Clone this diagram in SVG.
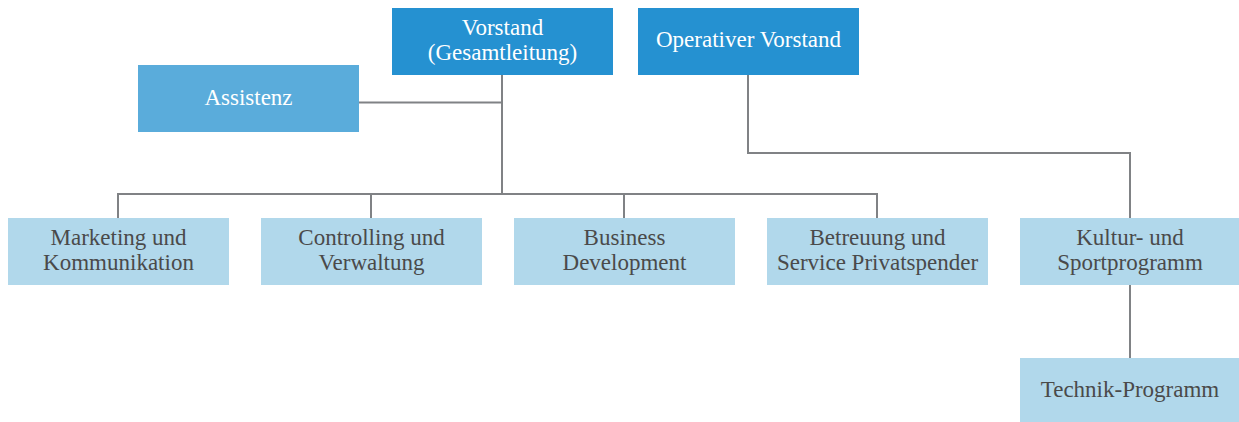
<svg xmlns="http://www.w3.org/2000/svg" width="1239" height="422" viewBox="0 0 1239 422">
<style>
text{font-family:'Liberation Serif','Times New Roman',Tinos,'DejaVu Serif',serif;font-size:23px;text-anchor:middle}
.dark{fill:#2591d1}
.mid{fill:#5aacdb}
.light{fill:#b1d8eb}
.w{fill:#ffffff}
.g{fill:#4a4a4a}
.c{fill:none;stroke:#808285;stroke-width:2}
</style>
<rect width="1239" height="422" fill="#ffffff"/>
<g id="connectors">
<path class="c" d="M359 102.5H502M502 75V194M118 218V194H877V218M371 194V218M624 194V218"/>
<path class="c" d="M748 75V153H1130V218M1130 285V358"/>
</g>
<g font-family="Liberation Serif, serif">
<g id="vorstand"><rect class="dark" x="392" y="8" width="221" height="67"/><text class="w" x="502.5" y="35">Vorstand</text><text class="w" x="502.5" y="59.5">(Gesamtleitung)</text></g>
<g id="operativer-vorstand"><rect class="dark" x="638" y="8" width="221" height="67"/><text class="w" x="748.5" y="47">Operativer Vorstand</text></g>
<g id="assistenz"><rect class="mid" x="138" y="65" width="221" height="67"/><text class="w" x="248.5" y="105">Assistenz</text></g>
<g id="marketing"><rect class="light" x="8" y="218" width="221" height="67"/><text class="g" x="118.5" y="245">Marketing und</text><text class="g" x="118.5" y="270">Kommunikation</text></g>
<g id="controlling"><rect class="light" x="261" y="218" width="221" height="67"/><text class="g" x="371.5" y="245">Controlling und</text><text class="g" x="371.5" y="270">Verwaltung</text></g>
<g id="business"><rect class="light" x="514" y="218" width="221" height="67"/><text class="g" x="624.5" y="245">Business</text><text class="g" x="624.5" y="270">Development</text></g>
<g id="betreuung"><rect class="light" x="767" y="218" width="221" height="67"/><text class="g" x="877.5" y="245">Betreuung und</text><text class="g" x="877.5" y="270">Service Privatspender</text></g>
<g id="kultur"><rect class="light" x="1020" y="218" width="221" height="67"/><text class="g" x="1130" y="245">Kultur- und</text><text class="g" x="1130" y="270">Sportprogramm</text></g>
<g id="technik"><rect class="light" x="1020" y="358" width="221" height="66"/><text class="g" x="1130" y="397">Technik-Programm</text></g>
</g>
</svg>
